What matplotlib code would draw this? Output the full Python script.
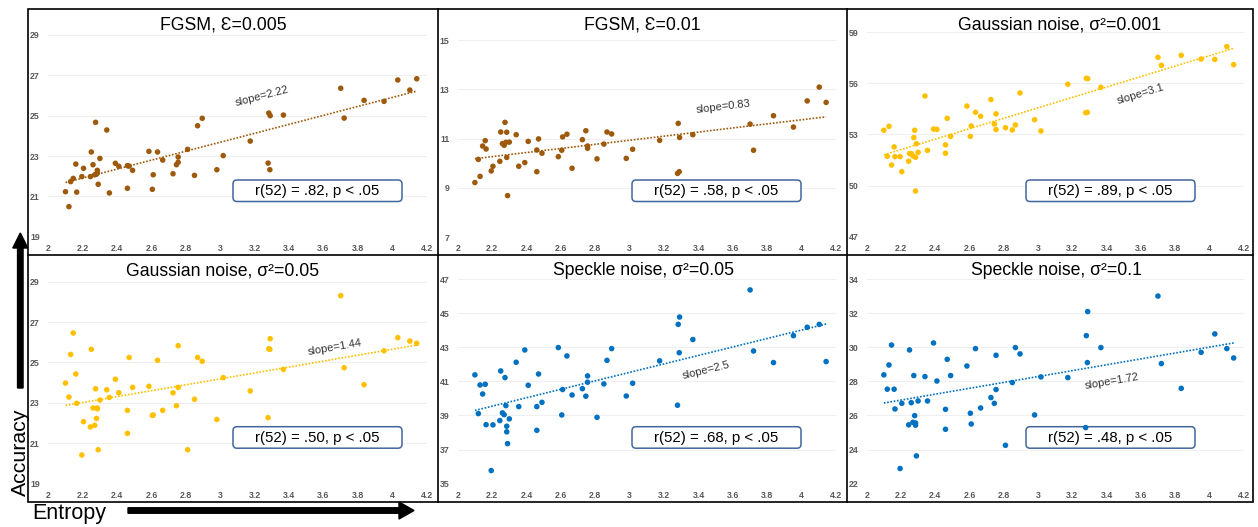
import numpy as np
import matplotlib
matplotlib.use("Agg")
import matplotlib.pyplot as plt
from matplotlib.patches import FancyBboxPatch, FancyArrow, Rectangle

plt.rcParams["font.family"] = ["Liberation Sans", "DejaVu Sans"]

W, H = 1258, 527

# entropy of each of the 54 models (shared by all panels)
entropy = np.array([
    2.10, 2.12, 2.13, 2.145, 2.16, 2.165, 2.195, 2.205, 2.245, 2.25,
    2.26, 2.27, 2.275, 2.28, 2.285, 2.285, 2.29, 2.30, 2.34, 2.355,
    2.39, 2.41, 2.46, 2.46, 2.47, 2.49, 2.585, 2.605, 2.61, 2.635,
    2.665, 2.725, 2.745, 2.755, 2.755, 2.81, 2.85, 2.868, 2.895, 2.98,
    3.017, 3.174, 3.278, 3.282, 3.288, 3.29, 3.367, 3.70, 3.72, 3.836,
    3.952, 4.032, 4.102, 4.142,
])

acc_fgsm_005 = [
    21.23, 20.49, 21.73, 21.89, 22.60, 21.21, 21.98, 22.39, 21.98, 23.20,
    22.57, 22.07, 24.67, 22.10, 22.17, 22.29, 21.60, 22.88, 24.29, 21.17,
    22.64, 22.49, 22.52, 21.40, 22.50, 22.29, 23.23, 21.35, 22.07, 23.20,
    22.80, 22.12, 22.57, 22.69, 22.95, 23.33, 22.04, 24.50, 24.87, 22.32,
    23.02, 23.74, 22.65, 25.13, 22.32, 25.00, 25.03, 26.36, 24.88, 25.76,
    25.71, 26.77, 26.27, 26.83,
]
acc_fgsm_01 = [
    9.22, 10.16, 9.47, 10.70, 10.92, 10.58, 9.69, 9.88, 10.08, 11.27,
    10.80, 10.73, 11.66, 10.85, 10.24, 11.26, 8.69, 10.86, 11.16, 9.88,
    10.03, 10.89, 10.54, 9.66, 10.99, 10.41, 10.27, 10.53, 11.07, 11.18,
    9.80, 10.96, 11.32, 10.70, 10.61, 10.18, 10.78, 11.27, 11.19, 10.20,
    10.57, 10.93, 9.59, 11.62, 9.66, 11.05, 11.16, 11.59, 10.53, 11.93,
    11.47, 12.53, 13.09, 12.47,
]
acc_gauss_001 = [
    53.25, 51.72, 53.48, 51.21, 52.27, 51.70, 51.70, 50.82, 51.43, 51.88,
    51.88, 51.74, 52.82, 53.25, 49.68, 51.66, 52.46, 51.95, 55.26, 52.07,
    53.32, 53.30, 52.39, 51.90, 53.95, 52.89, 54.67, 52.89, 53.50, 54.30,
    54.07, 55.05, 53.62, 53.29, 54.21, 53.40, 53.27, 53.56, 55.44, 53.87,
    53.21, 55.95, 54.28, 56.30, 54.30, 56.28, 55.77, 57.53, 57.06, 57.65,
    57.43, 57.41, 58.16, 57.10,
]
acc_gauss_05 = [
    23.98, 23.29, 25.40, 26.46, 24.43, 22.98, 20.42, 22.07, 21.81, 25.65,
    22.75, 21.89, 23.70, 22.23, 22.71, 22.75, 20.68, 23.14, 23.65, 23.27,
    24.17, 23.50, 22.63, 21.49, 25.25, 23.77, 23.82, 22.38, 22.40, 25.11,
    22.63, 23.50, 22.86, 25.83, 23.77, 20.68, 23.18, 25.25, 25.06, 22.18,
    24.25, 23.59, 22.27, 25.68, 25.65, 26.18, 24.66, 28.31, 24.74, 23.90,
    25.58, 26.23, 26.06, 25.95,
]
acc_speckle_05 = [
    41.38, 39.11, 40.79, 40.26, 40.83, 38.46, 35.77, 38.45, 38.70, 41.61,
    39.15, 39.05, 41.22, 39.58, 38.04, 38.37, 37.35, 38.80, 42.12, 39.52,
    42.84, 40.77, 39.52, 38.13, 41.43, 39.77, 42.98, 39.03, 40.52, 42.49,
    40.20, 40.57, 40.13, 41.32, 40.95, 38.89, 40.85, 42.23, 42.92, 40.14,
    40.89, 42.20, 39.60, 44.34, 42.68, 44.77, 43.45, 46.36, 42.78, 42.10,
    43.68, 44.17, 44.34, 42.16,
]
acc_speckle_1 = [
    28.38, 27.54, 28.96, 30.13, 27.54, 26.38, 22.89, 26.71, 25.45, 29.84,
    26.75, 25.60, 28.34, 25.99, 25.43, 25.56, 23.63, 26.85, 28.28, 26.85,
    30.25, 28.02, 26.36, 25.19, 29.29, 28.34, 28.90, 26.13, 25.50, 29.92,
    26.44, 27.05, 26.71, 29.53, 27.52, 24.25, 27.93, 29.98, 29.61, 26.03,
    28.26, 28.22, 25.29, 30.68, 29.10, 32.09, 29.98, 33.00, 29.04, 27.59,
    29.70, 30.78, 29.92, 29.37,
]

titles = [
    "FGSM, \u0190=0.005", "FGSM, \u0190=0.01", "Gaussian noise, \u03c3\u00b2=0.001",
    "Gaussian noise, \u03c3\u00b2=0.05", "Speckle noise, \u03c3\u00b2=0.05", "Speckle noise, \u03c3\u00b2=0.1",
]
series = [acc_fgsm_005, acc_fgsm_01, acc_gauss_001, acc_gauss_05, acc_speckle_05, acc_speckle_1]
slope_labels = ["slope=2.22", "slope=0.83", "slope=3.1", "slope=1.44", "slope=2.5", "slope=1.72"]
corr_labels = [
    "r(52) = .82, p < .05", "r(52) = .58, p < .05", "r(52) = .89, p < .05",
    "r(52) = .50, p < .05", "r(52) = .68, p < .05", "r(52) = .48, p < .05",
]
y_ranges = [(19, 29), (7, 15), (47, 59), (19, 29), (35, 47), (22, 34)]
y_steps = [2, 2, 3, 2, 2, 2]
x_ticks = [2, 2.2, 2.4, 2.6, 2.8, 3, 3.2, 3.4, 3.6, 3.8, 4, 4.2]

BROWN, GOLD, BLUE = "#9E5A0C", "#FFC000", "#0070C0"
colors = [BROWN, BROWN, GOLD, GOLD, BLUE, BLUE]

# layout in pixels: plot areas (x0, y0, x1, y1), slope label anchor, title anchor, box
plot_px = [
    (48.3, 35.0, 426.7, 236.7), (457.7, 40.0, 836.1, 237.3), (866.7, 32.3, 1243.6, 236.7),
    (48.3, 281.7, 426.7, 483.7), (457.7, 279.0, 836.1, 483.7), (866.7, 279.0, 1243.6, 483.7),
]
slope_pos = [(3.245, 25.98), (3.544, 12.30), (3.597, 55.38), (3.665, 25.75), (3.442, 41.63), (3.432, 27.98)]
title_pos = [(223, 29.3), (642, 29.3), (1060, 29.3), (222.5, 275), (643.3, 275), (1056.7, 275)]
box_px = [
    (233, 180), (632, 180), (1026, 180),
    (233, 426.7), (632, 426.7), (1026, 426.7),
]

fig = plt.figure(figsize=(W / 100, H / 100), dpi=100)

# overlay in pixel coordinates for frame, titles and arrows
ov = fig.add_axes([0, 0, 1, 1], zorder=10)
ov.set_xlim(0, W)
ov.set_ylim(H, 0)
ov.axis("off")
ov.patch.set_alpha(0)

for i in range(6):
    x0, y0, x1, y1 = plot_px[i]
    ax = fig.add_axes([x0 / W, 1 - y1 / H, (x1 - x0) / W, (y1 - y0) / H])
    y = np.array(series[i])
    ax.scatter(entropy, y, s=16, color=colors[i], edgecolors="none", zorder=3)

    k, b = np.polyfit(entropy, y, 1)
    xs = np.array([entropy.min(), entropy.max()])
    ax.plot(xs, k * xs + b, color=colors[i], lw=1.2, linestyle=(0, (1, 1)), zorder=2)

    ax.text(*slope_pos[i], slope_labels[i], fontsize=8, color="#333333",
            ha="center", va="center", rotation=np.degrees(np.arctan(k)),
            transform_rotates_text=True, rotation_mode="anchor")

    # correlation box sits under the dots, like the original text box
    bx, by = box_px[i]
    ax.add_patch(FancyBboxPatch((bx, by), 169, 21.5, boxstyle="round,pad=0,rounding_size=4",
                                fc="white", ec="#41669E", lw=1.1, transform=ov.transData,
                                clip_on=False, zorder=2.5))
    ax.text(bx + 84.5, by + 11.3, corr_labels[i], fontsize=10.8, ha="center", va="center",
            transform=ov.transData, zorder=2.6)

    lo, hi = y_ranges[i]
    ax.set_xlim(2, 4.2)
    ax.set_ylim(lo, hi)
    ax.set_xticks(x_ticks)
    ax.set_xticklabels([f"{t:g}" for t in x_ticks])
    ax.set_yticks(np.arange(lo, hi + 0.1, y_steps[i]))
    ax.tick_params(length=0, labelsize=6.3, labelcolor="#595959")
    ax.tick_params(axis="x", pad=5)
    ax.tick_params(axis="y", pad=6)
    for lab in ax.get_xticklabels() + ax.get_yticklabels():
        lab.set_fontweight("bold")
    ax.grid(axis="y", color="#EFEFEF", lw=0.8)
    ax.set_axisbelow(True)
    for s in ax.spines.values():
        s.set_visible(False)

ov.add_patch(Rectangle((28.3, 9), 1253 - 28.3, 501.7 - 9, fill=False, ec="black", lw=1.2))
for xv in (437.7, 846.7):
    ov.plot([xv, xv], [9, 501.7], color="black", lw=1.2)
ov.plot([28.3, 1253], [254.8, 254.8], color="black", lw=1.2)

for i in range(6):
    ov.text(*title_pos[i], titles[i], fontsize=12.7, ha="center", va="baseline")

ov.add_patch(FancyArrow(20.3, 388, 0, -140, width=5.5, head_width=15, head_length=15,
                        length_includes_head=False, color="black"))
ov.add_patch(FancyArrow(128, 510.5, 271, 0, width=5.5, head_width=17, head_length=15,
                        length_includes_head=False, color="black"))
ov.text(20, 452, "Accuracy", fontsize=15.3, rotation=90, ha="center", va="center")
ov.text(69, 518.5, "Entropy", fontsize=15.5, ha="center", va="baseline")

fig.savefig("out.png", dpi=100)
